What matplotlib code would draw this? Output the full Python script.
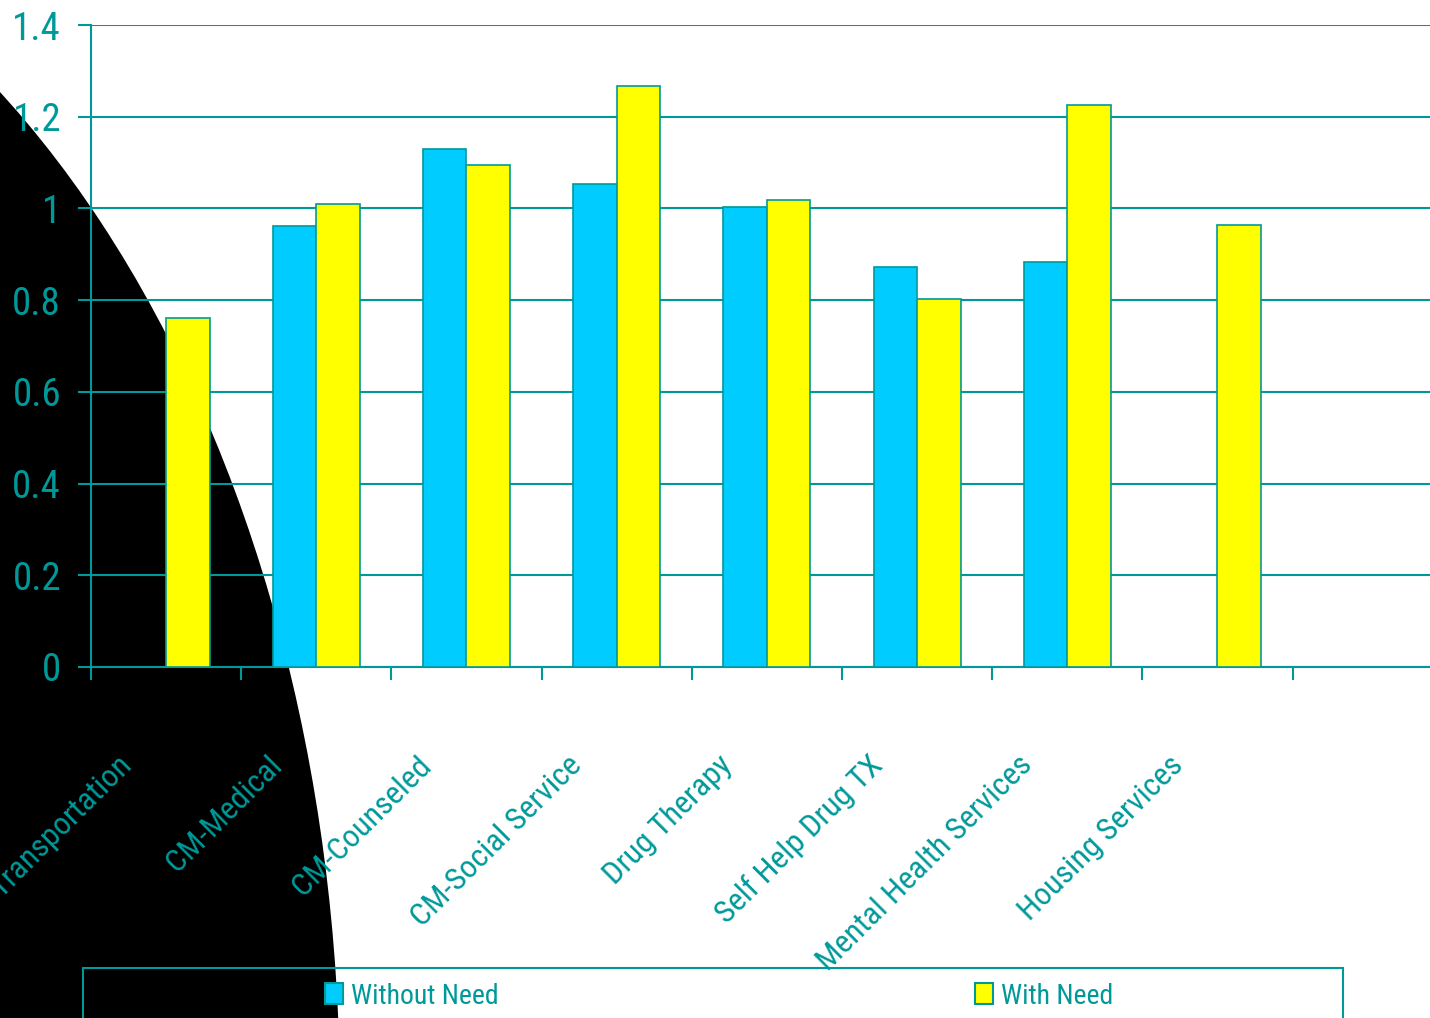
import numpy as np
import matplotlib
matplotlib.use('Agg')
import matplotlib.pyplot as plt
from matplotlib.patches import Ellipse, Rectangle, Patch

# datos
categorias = ['Transportation', 'CM-Medical', 'CM-Counseled', 'CM-Social Service',
              'Drug Therapy', 'Self Help Drug TX', 'Mental Health Services', 'Housing Services']
sin_necesidad = [np.nan, 0.962, 1.130, 1.053, 1.003, 0.872, 0.883, np.nan]
con_necesidad = [0.761, 1.010, 1.095, 1.267, 1.018, 0.802, 1.226, 0.964]
ticks_y = [0, 0.2, 0.4, 0.6, 0.8, 1.0, 1.2, 1.4]
etiquetas_y = ['0', '0.2', '0.4', '0.6', '0.8', '1', '1.2', '1.4']

TEAL = '#009999'
CIAN = '#00CCFF'
AMARILLO = '#FFFF00'

plt.rcParams['font.family'] = ['Roboto Condensed', 'DejaVu Sans']

fig = plt.figure(figsize=(14.3, 10.18), dpi=100)
fig.patch.set_facecolor('white')

# forma negra decorativa de la diapositiva
fig.add_artist(Ellipse((-0.3315, -0.0806), 1.1385, 2.436, transform=fig.transFigure,
                       facecolor='black', edgecolor='none', zorder=-5))

ax = fig.add_axes([0.0636, 0.3448, 0.9364, 0.6306])
ax.set_facecolor('none')

x = np.arange(len(categorias)) + 0.5
ancho = 0.29
ax.bar(x - ancho / 2, sin_necesidad, ancho, color=CIAN, edgecolor=TEAL, linewidth=1.2, zorder=3)
ax.bar(x + ancho / 2, con_necesidad, ancho, color=AMARILLO, edgecolor=TEAL, linewidth=1.2, zorder=3)

ax.set_ylim(0, 1.4)
ax.set_xlim(0, 8.915)
ax.set_yticks(ticks_y)
ax.set_yticklabels(etiquetas_y)
ax.set_xticks(np.arange(0, 9))
ax.set_xticklabels([])
ax.yaxis.grid(True, color=TEAL, linewidth=1.5)
ax.set_axisbelow(True)

for lado in ['top', 'right']:
    ax.spines[lado].set_visible(False)
for lado in ['left', 'bottom']:
    ax.spines[lado].set_color(TEAL)
    ax.spines[lado].set_linewidth(1.5)

ax.tick_params(axis='both', direction='out', length=9.5, width=1.5, color=TEAL)
ax.tick_params(axis='y', labelsize=28, labelcolor=TEAL, pad=12)

for xi, cat in zip(x, categorias):
    ax.text(xi - 0.33, -0.13, cat, transform=ax.get_xaxis_transform(),
            rotation=45, rotation_mode='anchor', ha='right', va='top',
            fontsize=23, color=TEAL)

# caja de leyenda
fig.add_artist(Rectangle((83 / 1430, -0.05), 1260 / 1430, 0.05 + 50 / 1018,
                         transform=fig.transFigure, facecolor='none',
                         edgecolor=TEAL, linewidth=1.5, zorder=1))

for color, nombre, px in [(CIAN, 'Without Need', 325), (AMARILLO, 'With Need', 975)]:
    h = Patch(facecolor=color, edgecolor=TEAL, linewidth=1.5)
    fig.legend([h], [nombre], loc='center left', bbox_to_anchor=(px / 1430, 22 / 1018),
               frameon=False, borderpad=0, borderaxespad=0, handlelength=0.65,
               handleheight=0.8, handletextpad=0.3, fontsize=20, labelcolor=TEAL)

fig.savefig('out.png', dpi=100)
